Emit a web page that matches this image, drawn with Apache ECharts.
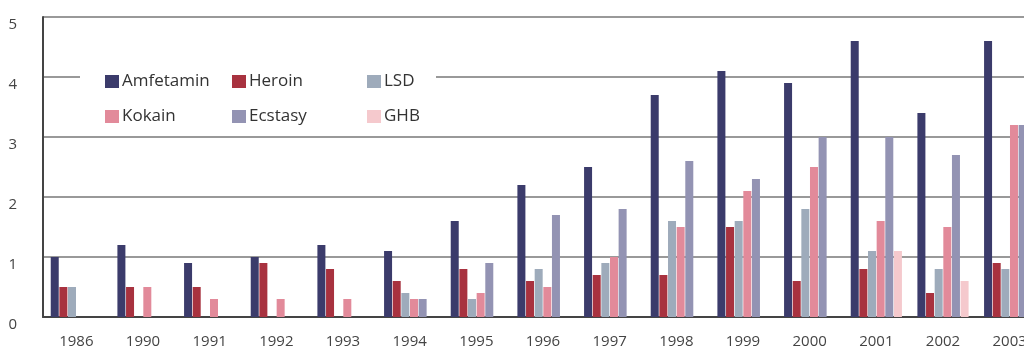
<!DOCTYPE html>
<html>
<head>
<meta charset="utf-8">
<script src="https://cdn.jsdelivr.net/npm/echarts@6/dist/echarts.min.js"></script>
<style>
html, body { margin: 0; padding: 0; background: #fff; }
#main { width: 1024px; height: 347px; }
</style>
</head>
<body>
<div id="main"></div>
<script>
var years = ['1986', '1990', '1991', '1992', '1993', '1994', '1995', '1996', '1997', '1998', '1999', '2000', '2001', '2002', '2003'];

var amfetamin = [1.0, 1.2, 0.9, 1.0, 1.2, 1.1, 1.6, 2.2, 2.5, 3.7, 4.1, 3.9, 4.6, 3.4, 4.6];
var heroin    = [0.5, 0.5, 0.5, 0.9, 0.8, 0.6, 0.8, 0.6, 0.7, 0.7, 1.5, 0.6, 0.8, 0.4, 0.9];
var lsd       = [0.5, 0, 0, 0, 0, 0.4, 0.3, 0.8, 0.9, 1.6, 1.6, 1.8, 1.1, 0.8, 0.8];
var kokain    = [0, 0.5, 0.3, 0.3, 0.3, 0.3, 0.4, 0.5, 1.0, 1.5, 2.1, 2.5, 1.6, 1.5, 3.2];
var ecstasy   = [0, 0, 0, 0, 0, 0.3, 0.9, 1.7, 1.8, 2.6, 2.3, 3.0, 3.0, 2.7, 3.2];
var ghb       = [0, 0, 0, 0, 0, 0, 0, 0, 0, 0, 0, 0, 1.1, 0.6, 0];

var colors = {
	Amfetamin: '#3b3b6b',
	Heroin: '#a8323f',
	LSD: '#9eabbb',
	Kokain: '#e28a9a',
	Ecstasy: '#9393b3',
	GHB: '#f5c9cd'
};

var myChart = echarts.init(document.getElementById('main'));

function bar(name, data) {
	return {
		name: name,
		type: 'bar',
		data: data,
		barWidth: 8,
		barGap: '8%',
		itemStyle: { color: colors[name] }
	};
}

var legendText = { fontFamily: 'Open Sans', fontSize: 17, color: '#333', padding: [0, 0, 0, -2] };

function legend(left, items) {
	return {
		orient: 'vertical',
		left: left,
		top: 68,
		itemWidth: 14,
		itemHeight: 13,
		itemGap: 18,
		icon: 'rect',
		textStyle: legendText,
		data: items
	};
}

option = {
	animation: false,
	grid: {
		left: 43,
		top: 17,
		bottom: 30,
		// the source figure is cut off on the right, through the 2003 group
		width: 1000,
		outerBoundsMode: 'none'
	},
	legend: [
		legend(100, ['Amfetamin', 'Kokain']),
		legend(227, ['Heroin', 'Ecstasy']),
		legend(362, ['LSD', 'GHB'])
	],
	graphic: [{
		type: 'rect',
		left: 80,
		top: 62,
		shape: { width: 356, height: 68 },
		style: { fill: '#fff' },
		z: 1
	}],
	xAxis: {
		type: 'category',
		data: years,
		axisLine: { lineStyle: { color: '#444', width: 2 } },
		axisTick: { inside: true, length: 4, lineStyle: { color: '#444' } },
		axisLabel: { fontFamily: 'Open Sans', fontSize: 15, color: '#444', margin: 17 }
	},
	yAxis: {
		type: 'value',
		min: 0,
		max: 5,
		interval: 1,
		axisLine: { show: true, lineStyle: { color: '#444', width: 2 } },
		axisTick: { show: false },
		axisLabel: { fontFamily: 'Open Sans', fontSize: 15, color: '#444', margin: 26, verticalAlign: 'top' },
		splitLine: { lineStyle: { color: '#999', width: 2 } }
	},
	series: [
		bar('Amfetamin', amfetamin),
		bar('Heroin', heroin),
		bar('LSD', lsd),
		bar('Kokain', kokain),
		bar('Ecstasy', ecstasy),
		bar('GHB', ghb)
	]
};

myChart.setOption(option);
</script>
</body>
</html>
